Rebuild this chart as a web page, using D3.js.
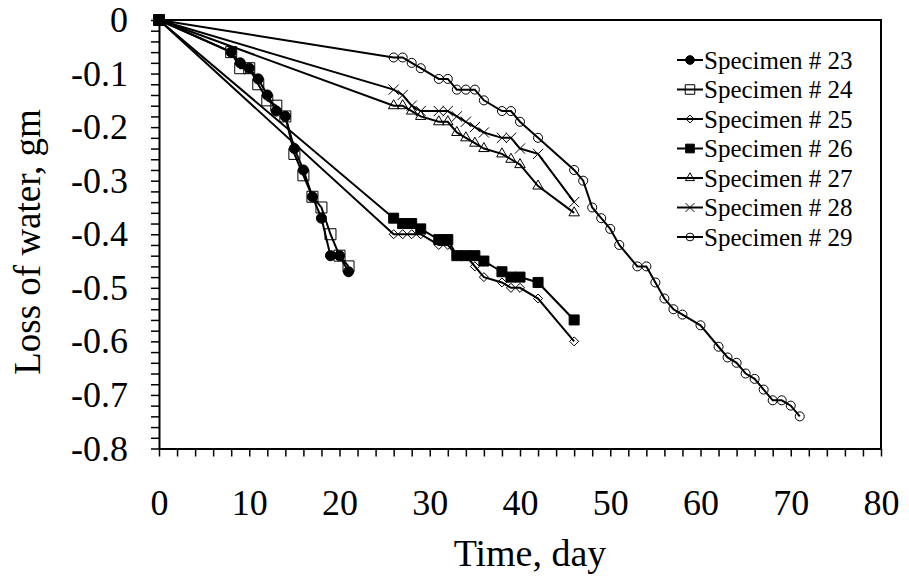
<!DOCTYPE html>
<html lang="en">
<head>
  <meta charset="utf-8"/>
  <script src="https://d3js.org/d3.v7.min.js"></script>
  <style>
    body { margin: 0; background: #fff; }
    svg text { font-family: "Liberation Serif", "Times New Roman", serif; fill: #000; }
  </style>
</head>
<body>
<div id="chart"></div>
<script>
  // Days on which the specimens were weighed
  const days23 = [0, 8, 9, 10, 11, 12, 13, 14, 15, 16, 17, 18, 19, 20, 21];
  const days24 = [0, 8, 9, 10, 11, 12, 13, 14, 15, 16, 17, 18, 19, 20, 21];
  const days25to28 = [0, 26, 27, 28, 29, 31, 32, 33, 34, 35, 36, 38, 39, 40, 42, 46];
  const days29 = [0, 26, 27, 28, 29, 31, 32, 33, 34, 35, 36, 38, 39, 40, 42, 46,
                  47, 48, 49, 50, 51, 53, 54, 55, 56, 57, 58, 60, 62, 63, 64, 65,
                  66, 67, 68, 69, 70, 71];

  // Loss of water (gm)
  const loss23 = [0, -0.06, -0.08, -0.09, -0.11, -0.14, -0.17, -0.18, -0.24, -0.28, -0.33, -0.37, -0.44, -0.44, -0.47];
  const loss24 = [0, -0.06, -0.09, -0.09, -0.12, -0.15, -0.16, -0.18, -0.25, -0.29, -0.33, -0.35, -0.40, -0.44, -0.46];
  const loss25 = [0, -0.40, -0.40, -0.40, -0.40, -0.42, -0.42, -0.44, -0.44, -0.46, -0.48, -0.49, -0.50, -0.50, -0.52, -0.60];
  const loss26 = [0, -0.37, -0.38, -0.38, -0.39, -0.41, -0.41, -0.44, -0.44, -0.44, -0.45, -0.47, -0.48, -0.48, -0.49, -0.56];
  const loss27 = [0, -0.16, -0.16, -0.17, -0.18, -0.19, -0.19, -0.21, -0.22, -0.23, -0.24, -0.25, -0.26, -0.27, -0.31, -0.36];
  const loss28 = [0, -0.13, -0.14, -0.16, -0.17, -0.17, -0.17, -0.18, -0.19, -0.20, -0.21, -0.22, -0.22, -0.24, -0.25, -0.34];
  const loss29 = [0, -0.07, -0.07, -0.08, -0.09, -0.11, -0.11, -0.13, -0.13, -0.13, -0.15, -0.17, -0.17, -0.19, -0.22, -0.28,
                  -0.30, -0.35, -0.37, -0.39, -0.42, -0.46, -0.46, -0.49, -0.52, -0.54, -0.55, -0.57, -0.61, -0.63, -0.64,
                  -0.66, -0.67, -0.69, -0.71, -0.71, -0.72, -0.74];

  const seriesNames = ["Specimen # 23", "Specimen # 24", "Specimen # 25", "Specimen # 26",
                       "Specimen # 27", "Specimen # 28", "Specimen # 29"];

  const xTicks = [0, 10, 20, 30, 40, 50, 60, 70, 80];
  const yTicks = [0, -0.1, -0.2, -0.3, -0.4, -0.5, -0.6, -0.7, -0.8];

  const serif = '"Liberation Serif", "Times New Roman", serif';

  // marker style per series: d3 symbol type, area, filled or not
  const markers = [
    {type: d3.symbolCircle,    size: 80,  fill: true},
    {type: d3.symbolSquare,    size: 121, fill: false},
    {type: d3.symbolDiamond2,  size: 52,  fill: false},
    {type: d3.symbolSquare,    size: 100, fill: true},
    {type: d3.symbolTriangle2, size: 78,  fill: false},
    {type: d3.symbolTimes,     size: 70,  fill: false},
    {type: d3.symbolCircle,    size: 64,  fill: false}
  ];

  const series = [
    {name: seriesNames[0], x: days23, y: loss23},
    {name: seriesNames[1], x: days24, y: loss24},
    {name: seriesNames[2], x: days25to28, y: loss25},
    {name: seriesNames[3], x: days25to28, y: loss26},
    {name: seriesNames[4], x: days25to28, y: loss27},
    {name: seriesNames[5], x: days25to28, y: loss28},
    {name: seriesNames[6], x: days29, y: loss29}
  ];

  const width = 909, height = 580;
  const margin = {top: 20, right: 28, bottom: 131.5, left: 159};

  const svg = d3.select("#chart").append("svg")
    .attr("width", width)
    .attr("height", height)
    .style("font-family", serif);

  const x = d3.scaleLinear().domain([0, 80]).range([margin.left, width - margin.right]);
  const y = d3.scaleLinear().domain([-0.8, 0]).range([height - margin.bottom, margin.top]);

  // plot frame (top and right edges)
  svg.append("path")
    .attr("d", `M${x(0)},${y(0)}H${x(80)}V${y(-0.8)}`)
    .attr("fill", "none")
    .attr("stroke", "#000")
    .attr("stroke-width", 2);

  // x axis: minor ticks every 2 days, labels every 10
  const xAxis = svg.append("g")
    .attr("transform", `translate(0,${y(-0.8)})`)
    .call(d3.axisBottom(x).tickValues(d3.range(0, 81, 2)).tickSize(8).tickSizeOuter(0)
      .tickFormat(d => xTicks.includes(d) ? d : ""));
  xAxis.selectAll("text")
    .attr("y", 41)
    .attr("dy", "0.71em");

  // y axis: minor ticks every 0.02, labels every 0.1
  const yAxis = svg.append("g")
    .attr("transform", `translate(${x(0)},0)`)
    .call(d3.axisLeft(y).tickValues(d3.range(0, 41).map(i => -i * 0.02)).tickSize(8).tickSizeOuter(0)
      .tickFormat(d => {
        const hit = yTicks.find(t => Math.abs(t - d) < 1e-9);
        if (hit === undefined) return "";
        return hit === 0 ? "0" : hit.toFixed(1);
      }));
  yAxis.selectAll("text")
    .attr("x", -31);

  [xAxis, yAxis].forEach(a => {
    a.attr("font-family", null).attr("font-size", null);
    a.select(".domain").attr("stroke-width", 2);
    a.selectAll(".tick line").attr("stroke-width", 1.5);
    a.selectAll("text")
      .style("font-family", serif)
      .style("font-size", "36px")
      .attr("fill", "#000");
  });

  // axis titles
  svg.append("text")
    .attr("x", 530)
    .attr("y", 566)
    .attr("text-anchor", "middle")
    .style("font-size", "38px")
    .text("Time, day");

  svg.append("text")
    .attr("transform", `translate(40,242) rotate(-90)`)
    .attr("text-anchor", "middle")
    .style("font-size", "37px")
    .text("Loss of water, gm");

  const line = d3.line()
    .x(d => x(d[0]))
    .y(d => y(d[1]));

  // draw each series: line then markers
  series.forEach((s, i) => {
    const pts = s.x.map((d, j) => [d, s.y[j]]);
    const m = markers[i];
    const g = svg.append("g");

    g.append("path")
      .datum(pts)
      .attr("d", line)
      .attr("fill", "none")
      .attr("stroke", "#000")
      .attr("stroke-width", 2);

    g.selectAll("path.mark")
      .data(pts)
      .enter()
      .append("path")
      .attr("class", "mark")
      .attr("transform", d => `translate(${x(d[0])},${y(d[1])})`)
      .attr("d", d3.symbol().type(m.type).size(m.size))
      .attr("fill", m.fill ? "#000" : "none")
      .attr("stroke", "#000")
      .attr("stroke-width", 1);
  });

  // legend
  const legend = svg.append("g")
    .attr("transform", "translate(677,60)");

  series.forEach((s, i) => {
    const m = markers[i];
    const row = legend.append("g").attr("transform", `translate(0,${i * 29.5})`);
    row.append("line")
      .attr("x1", 0).attr("x2", 26)
      .attr("stroke", "#000")
      .attr("stroke-width", 2);
    row.append("path")
      .attr("transform", "translate(13,0)")
      .attr("d", d3.symbol().type(m.type).size(m.size * 0.75))
      .attr("fill", m.fill ? "#000" : "none")
      .attr("stroke", "#000")
      .attr("stroke-width", 1);
    row.append("text")
      .attr("x", 27)
      .attr("dy", "0.35em")
      .style("font-size", "25px")
      .text(s.name);
  });
</script>
</body>
</html>
